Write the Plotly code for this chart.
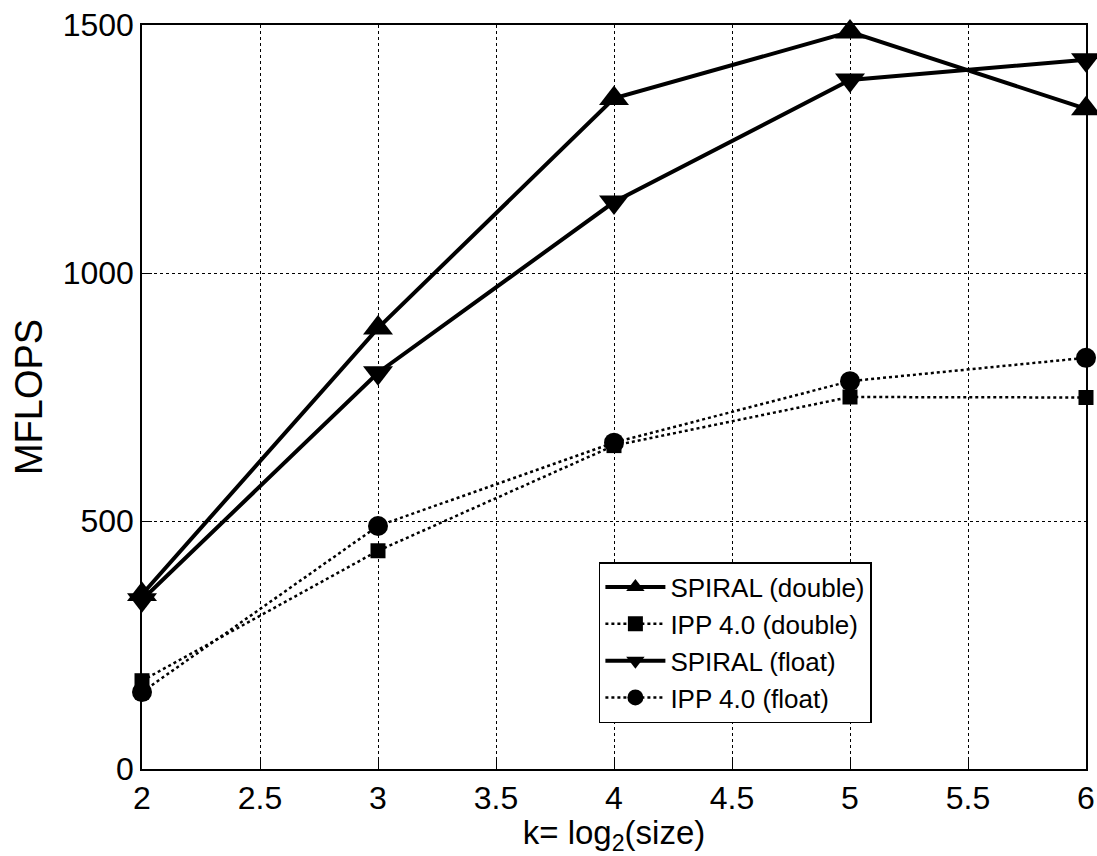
import plotly.graph_objects as go

k = [2, 3, 4, 5, 6]
spiral_double = [352, 889, 1352, 1486, 1331]
ipp_double = [178, 440, 652, 750, 749]
spiral_float = [341, 799, 1143, 1389, 1430]
ipp_float = [155, 490, 658, 782, 829]

x_ticks = [2, 2.5, 3, 3.5, 4, 4.5, 5, 5.5, 6]
y_ticks = [0, 500, 1000, 1500]

FONT = "Liberation Sans, Arial, Helvetica, sans-serif"

fig = go.Figure()
series = [
    ("SPIRAL (double)", spiral_double, "solid", 4, "triangle-up", 26),
    ("IPP 4.0 (double)", ipp_double, "dot", 2.5, "square", 15),
    ("SPIRAL (float)", spiral_float, "solid", 4, "triangle-down", 26),
    ("IPP 4.0 (float)", ipp_float, "dot", 2.5, "circle", 20),
]
for name, vals, dash, w, sym, sz in series:
    fig.add_trace(go.Scatter(
        x=k, y=vals, name=name, mode="lines+markers",
        line=dict(color="black", width=w, dash=dash),
        marker=dict(symbol=sym, size=sz, color="black", line=dict(width=0)),
        cliponaxis=False,
    ))

axis_common = dict(
    showline=True, linecolor="black", linewidth=1.5, mirror=True,
    ticks="inside", ticklen=10, tickcolor="black", tickwidth=1,
    showgrid=True, gridcolor="black", gridwidth=1, griddash="dot",
    zeroline=False, automargin=False,
    tickfont=dict(family=FONT, size=32, color="black"),
)

fig.update_xaxes(
    range=[2, 6], tickvals=x_ticks, ticktext=[str(t) for t in x_ticks],
    title=dict(text="k= log<sub>2</sub>(size)", font=dict(family=FONT, size=33, color="black"), standoff=2),
    **axis_common,
)
fig.update_yaxes(
    range=[0, 1500], tickvals=y_ticks,
    title=dict(text="MFLOPS", font=dict(family=FONT, size=38, color="black"), standoff=8),
    **axis_common,
)

fig.update_layout(
    width=1097, height=856,
    margin=dict(l=142, r=11, t=25, b=87),
    paper_bgcolor="white", plot_bgcolor="white",
    font=dict(family=FONT, color="black"),
    showlegend=True,
    legend=dict(
        x=0.484, y=0.278, xanchor="left", yanchor="top",
        bgcolor="white", bordercolor="black", borderwidth=1.5,
        font=dict(family=FONT, size=26, color="black"),
        itemwidth=60, tracegroupgap=0,
    ),
)

fig.write_html("out.html", config={"displayModeBar": False},
               post_script="document.body.style.margin='0';")
